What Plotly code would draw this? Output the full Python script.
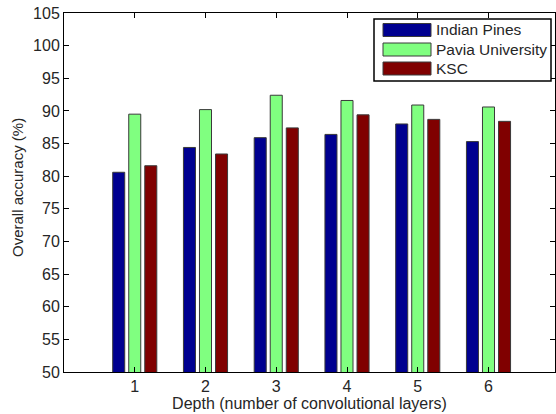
import plotly.graph_objects as go

# Overall accuracy per network depth for three hyperspectral datasets
depths = [1, 2, 3, 4, 5, 6]
series_names = ["Indian Pines", "Pavia University", "KSC"]
indian_pines = [80.6, 84.4, 85.9, 86.4, 88.0, 85.3]
pavia_university = [89.5, 90.2, 92.4, 91.6, 90.9, 90.6]
ksc = [81.6, 83.4, 87.4, 89.4, 88.7, 88.4]
y_ticks = [50, 55, 60, 65, 70, 75, 80, 85, 90, 95, 100, 105]

colors = ["#000090", "#80FF80", "#800000"]
series = [indian_pines, pavia_university, ksc]

W, H = 556, 414
ML, MR, MT, MB = 64, 1, 13, 42
PW, PH = W - ML - MR, H - MT - MB

FONT = "Liberation Sans, Arial, sans-serif"
FS = 16
TXT = "#262626"

fig = go.Figure()
for name, vals, col in zip(series_names, series, colors):
    fig.add_trace(go.Bar(
        x=depths, y=vals, name=name,
        marker=dict(color=col, line=dict(color="#3a3a3a", width=1)),
        base=0, showlegend=False,
    ))


def px_x(px):
    return (px - ML) / PW


def px_y(py):
    return (H - MB - py) / PH


# Boxed legend with wide swatches, drawn in the upper right of the axes
shapes = [dict(type="rect", xref="paper", yref="paper",
               x0=px_x(374), x1=px_x(551), y0=px_y(81), y1=px_y(19),
               line=dict(color="black", width=1.5), fillcolor="white", layer="above")]
annotations = []
row_centers = [30, 49.5, 68.5]
for name, col, cy in zip(series_names, colors, row_centers):
    shapes.append(dict(type="rect", xref="paper", yref="paper",
                       x0=px_x(383), x1=px_x(431), y0=px_y(cy + 6.5), y1=px_y(cy - 6.5),
                       line=dict(color="#3a3a3a", width=1), fillcolor=col, layer="above"))
    annotations.append(dict(xref="paper", yref="paper", x=px_x(434), y=px_y(cy),
                            text=name, showarrow=False, xanchor="left", yanchor="middle",
                            font=dict(family=FONT, size=15.5, color=TXT)))

# Rotated y-axis title
annotations.append(dict(xref="paper", yref="paper", x=px_x(17), y=px_y(188),
                        text="Overall accuracy (%)", showarrow=False, textangle=-90,
                        xanchor="center", yanchor="middle",
                        font=dict(family=FONT, size=15, color=TXT)))

fig.update_layout(
    width=W, height=H,
    margin=dict(l=ML, r=MR, t=MT, b=MB),
    paper_bgcolor="white", plot_bgcolor="white",
    barmode="group", bargap=0.32, bargroupgap=0.25,
    font=dict(family=FONT, size=FS, color=TXT),
    shapes=shapes, annotations=annotations,
    showlegend=False,
)
fig.update_xaxes(
    range=[0, 6.94], tickvals=depths, ticktext=[str(d) for d in depths],
    ticks="inside", ticklen=5, tickcolor="black",
    showline=True, linecolor="black", linewidth=1, mirror="ticks",
    showgrid=False, zeroline=False,
    title=dict(text="Depth (number of convolutional layers)", standoff=3,
               font=dict(family=FONT, size=FS, color=TXT)),
    tickfont=dict(family=FONT, size=FS, color=TXT),
)
fig.update_yaxes(
    range=[50, 105], tickvals=y_ticks,
    ticks="inside", ticklen=5, tickcolor="black",
    showline=True, linecolor="black", linewidth=1, mirror="ticks",
    showgrid=False, zeroline=False,
    tickfont=dict(family=FONT, size=FS, color=TXT),
)

fig.write_html("out.html")
